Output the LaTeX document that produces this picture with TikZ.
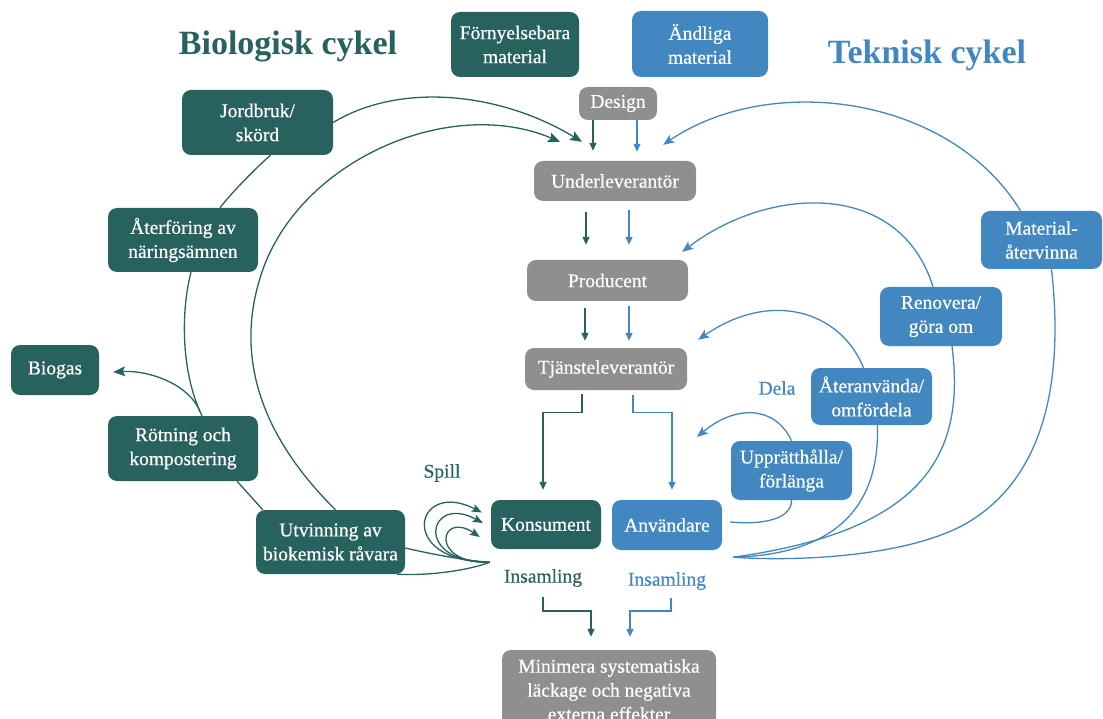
\documentclass[tikz,border=0pt]{standalone}
\usepackage{fontspec}
\setmainfont{Liberation Serif}
\newfontfamily\boxfont{Liberation Serif}[FakeBold=0.5]
\usetikzlibrary{arrows.meta,calc}
\pgfdeclarelayer{bg}
\pgfsetlayers{bg,main}
\definecolor{teal2}{HTML}{27625F}
\definecolor{blue2}{HTML}{4387C1}
\definecolor{gray2}{HTML}{8F8F8F}
\begin{document}
\begin{tikzpicture}[x=1pt,y=-1pt,
  box/.style={rounded corners=9pt, text=white, align=center, inner sep=0pt, font=\boxfont\fontsize{19.5}{24}\selectfont},
  tbox/.style={box, fill=teal2},
  bbox/.style={box, fill=blue2},
  gbox/.style={box, fill=gray2},
  tline/.style={draw=teal2, line width=1.3pt},
  bline/.style={draw=blue2, line width=1.3pt},
  tarr/.style={tline, -{Stealth[length=12pt,width=10pt,inset=2.5pt]}},
  barr/.style={bline, -{Stealth[length=11pt,width=9pt,inset=2.5pt]}},
  tspill/.style={tline, -{Stealth[length=10pt,width=8pt,inset=2pt]}},
  tsarr/.style={tline, -{Triangle[length=8pt,width=7pt]}},
  bsarr/.style={bline, -{Triangle[length=8pt,width=7pt]}},
  lbl/.style={font=\boxfont\fontsize{19.5}{24}\selectfont, inner sep=0pt},
  title/.style={font=\bfseries\fontsize{34}{40}\selectfont, inner sep=0pt},
]
\useasboundingbox (0,0) rectangle (1103,719);

% titles
\node[title, text=teal2] (tbio) at (288,46) {Biologisk cykel};
\node[title, text=blue2] (ttek) at (927,55) {Teknisk cykel};

% boxes
\node[tbox, minimum width=128pt, minimum height=65pt] (forny) at (515,44.5) {Förnyelsebara\\material};
\node[bbox, minimum width=136pt, minimum height=66pt] (andl) at (700,44) {Ändliga\\material};
\node[gbox, minimum width=78pt, minimum height=33pt] (design) at (618,103.5) {Design};
\node[tbox, minimum width=151pt, minimum height=65pt] (jord) at (257.5,122.5) {Jordbruk/\\skörd};
\node[gbox, minimum width=162pt, minimum height=40pt] (under) at (615,181) {Underleverantör};
\node[tbox, minimum width=150pt, minimum height=64pt] (ater) at (183,240) {Återföring av\\näringsämnen};
\node[gbox, minimum width=161pt, minimum height=41pt] (prod) at (607.5,280.5) {Producent};
\node[bbox, minimum width=121pt, minimum height=58pt] (mat) at (1041.5,240) {Material-\\återvinna};
\node[bbox, minimum width=122pt, minimum height=59pt] (renov) at (941,316.5) {Renovera/\\göra om};
\node[tbox, minimum width=88pt, minimum height=50pt] (biogas) at (55,370) {Biogas};
\node[gbox, minimum width=162pt, minimum height=42pt] (tjan) at (606,369) {Tjänsteleverantör};
\node[bbox, minimum width=121pt, minimum height=57pt] (ateranv) at (871.5,396.5) {Återanvända/\\omfördela};
\node[tbox, minimum width=150pt, minimum height=65pt] (rot) at (183,448.5) {Rötning och\\kompostering};
\node[bbox, minimum width=121pt, minimum height=59pt] (uppr) at (791.5,470.5) {Upprätthålla/\\förlänga};
\node[tbox, minimum width=149pt, minimum height=64pt] (utv) at (330.5,542) {Utvinning av\\biokemisk råvara};
\node[tbox, minimum width=110pt, minimum height=49pt] (kons) at (546,524.5) {Konsument};
\node[bbox, minimum width=110pt, minimum height=50pt] (anv) at (667,525) {Användare};
\node[gbox, minimum width=214pt, minimum height=80pt] (mini) at (609,690) {Minimera systematiska\\läckage och negativa\\externa effekter};

% labels
\node[lbl, text=teal2] (spill) at (442,473) {Spill};
\node[lbl, text=blue2] (dela) at (777,388) {Dela};
\node[lbl, text=teal2] (insK) at (543,578) {Insamling};
\node[lbl, text=blue2] (insA) at (667,581) {Insamling};

% free points
\coordinate (kjoin) at ([xshift=-1pt,yshift=-13pt]kons.south west);
\coordinate (hub) at ([xshift=11pt,yshift=-7pt]anv.south east);
\coordinate (uptip) at (697,437);

\begin{pgfonlayer}{bg}
% straight flow
\draw[tsarr] ([xshift=-25pt]design.south) -- ([xshift=-22pt,yshift=10pt]under.north);
\draw[bsarr] ([xshift=19pt]design.south) -- ([xshift=22pt,yshift=9pt]under.north);
\draw[tsarr] ([xshift=-29pt,yshift=-11pt]under.south) -- ([xshift=-21.5pt,yshift=15pt]prod.north);
\draw[bsarr] ([xshift=14pt,yshift=-9pt]under.south) -- ([xshift=21.5pt,yshift=15pt]prod.north);
\draw[tsarr] ([xshift=-22.5pt,yshift=-7pt]prod.south) -- ([xshift=-21pt,yshift=7pt]tjan.north);
\draw[bsarr] ([xshift=21.5pt,yshift=-5pt]prod.south) -- ([xshift=23pt,yshift=7pt]tjan.north);
\draw[tsarr] ([xshift=-24pt,yshift=-4pt]tjan.south) -- ++(0,18) -| ([xshift=-3pt,yshift=10pt]kons.north);
\draw[bsarr] ([xshift=27pt,yshift=-5pt]tjan.south) -- ++(0,17) -| ([xshift=5pt,yshift=10pt]anv.north);
\draw[tsarr] ([yshift=-10pt]insK.south) -- ++(0,14) -| ([xshift=-18pt,yshift=13pt]mini.north);
\draw[bsarr] ([xshift=4pt,yshift=-8pt]insA.south) -- ++(0,13) -| ([xshift=21pt,yshift=13pt]mini.north);

% biological cycle
\draw[tarr] (jord.east) .. controls (400,82) and (500,92) .. ([xshift=-33pt,yshift=19pt]under.north);
\draw[tarr] ([xshift=5pt]utv.north) .. controls (265,440) and (232,360) .. (262,272)
   .. controls (300,160) and (450,95) .. ([xshift=-55pt,yshift=19pt]under.north);
\draw[tline] ([xshift=13pt]jord.south) .. controls (258,166) and (232,192) .. ([xshift=37pt]ater.north);
\draw[tline] ([xshift=8pt]ater.south) .. controls (180,315) and (182,375) .. ([xshift=19pt]rot.north);
\draw[tarr] ([xshift=17pt,yshift=4pt]rot.north) .. controls (190,385) and (150,370) .. ([xshift=14pt,yshift=-2pt]biogas.east);
\draw[tline] ([xshift=54pt]rot.south) -- ([xshift=7pt]utv.north west);
\draw[tline] ([yshift=-6pt]utv.east) .. controls (440,556) and (470,561) .. (kjoin);
\draw[tline] ([xshift=-8pt]utv.south east) .. controls (430,576) and (470,570) .. (kjoin);
\draw[tspill] (kjoin) .. controls (395,562) and (415,478) .. ([xshift=-9pt,yshift=12pt]kons.west);
\draw[tspill] (kjoin) .. controls (412,563) and (428,493) .. ([xshift=-8pt,yshift=1.5pt]kons.west);
\draw[tspill] (kjoin) .. controls (428,564) and (440,510) .. ([xshift=-11pt,yshift=-12.5pt]kons.west);

% technical cycle
\draw[barr] ([xshift=-21pt]mat.north) .. controls (950,95) and (770,72) .. ([xshift=-33pt,yshift=16pt]under.north east);
\draw[bline] ([xshift=10pt]mat.south) .. controls (1065,390) and (1040,480) .. (967,523)
   .. controls (910,556) and (800,562) .. (hub);
\draw[barr] ([xshift=-8pt]renov.north) .. controls (900,180) and (770,185) .. ([xshift=-6pt,yshift=8pt]prod.north east);
\draw[bline] ([xshift=11pt]renov.south) .. controls (965,450) and (930,530) .. (hub);
\draw[barr] ([xshift=-8pt]ateranv.north) .. controls (840,310) and (770,290) .. ([xshift=11pt,yshift=8pt]tjan.north east);
\draw[bline] ([xshift=6pt]ateranv.south) .. controls (880,520) and (820,555) .. (hub);
\draw[barr] (uppr.north) .. controls (775,405) and (735,405) .. (uptip);
\draw[bline] (uppr.south) .. controls (792,520) and (760,525) .. ([xshift=8pt,yshift=3pt]anv.east);
\end{pgfonlayer}
\end{tikzpicture}
\end{document}
